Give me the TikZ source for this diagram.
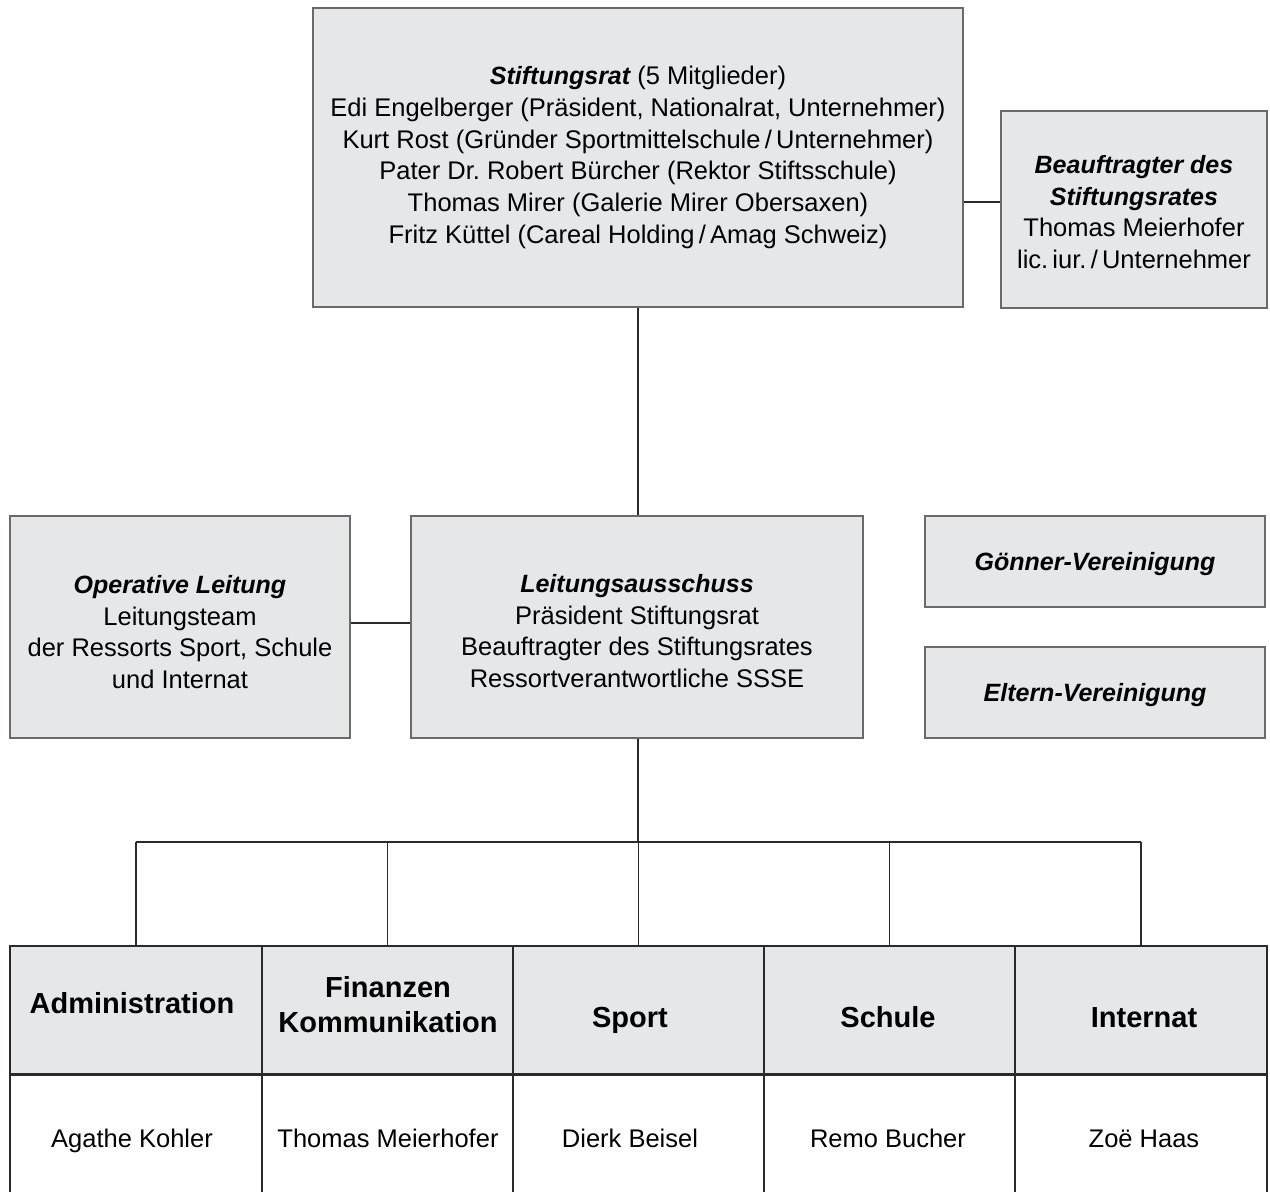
\documentclass[tikz,border=0pt]{standalone}
\usepackage{fontspec}
\setmainfont{Liberation Sans}
\frenchspacing
\definecolor{boxgray}{HTML}{E6E7E8}
\definecolor{boxline}{HTML}{6A6A6A}
\definecolor{conline}{HTML}{2A2A2A}
\newcommand{\bi}[1]{{\bfseries\itshape\fontsize{25}{31.8}\selectfont #1}}
\begin{document}
\begin{tikzpicture}[x=1pt,y=-1pt,
  box/.style={draw=boxline, line width=1.4pt, fill=boxgray, inner sep=0pt},
  btext/.style={align=center, inner sep=0pt, font=\fontsize{25.5}{31.8}\selectfont},
  conn/.style={draw=conline, line width=1.1pt},
  hcell/.style={draw=conline, line width=1.1pt, fill=boxgray, inner sep=0pt, minimum height=128pt},
  bcell/.style={draw=conline, line width=1.1pt, fill=white, inner sep=0pt, minimum height=140pt},
  htext/.style={align=center, inner sep=0pt, font=\bfseries\fontsize{29}{35}\selectfont},
  ntext/.style={inner sep=0pt, anchor=base, font=\fontsize{25.5}{31}\selectfont}
]
\clip (0,0) rectangle (1270,1192);
\fill[white] (0,0) rectangle (1270,1192);

% Stiftungsrat
\node[box, minimum width=650pt, minimum height=299pt] (stift) at (638,157.5) {};
\node[btext] (stifttext) at (638,157.5) {\bi{Stiftungsrat} (5 Mitglieder)\\
Edi Engelberger (Präsident, Nationalrat, Unternehmer)\\
Kurt Rost (Gründer Sportmittelschule\,/\,Unternehmer)\\
Pater Dr.\ Robert Bürcher (Rektor Stiftsschule)\\
Thomas Mirer (Galerie Mirer Obersaxen)\\
Fritz Küttel (Careal Holding\,/\,Amag Schweiz)};

% Beauftragter
\node[box, minimum width=266pt, minimum height=197pt] (bea) at (1134,209.5) {};
\node[btext] (beatext) at (1134,212) {\bi{Beauftragter des}\\
\bi{Stiftungsrates}\\
Thomas Meierhofer\\
lic.\,iur.\,/\,Unternehmer};

% Leitungsausschuss
\node[box, minimum width=452pt, minimum height=222pt] (leit) at (637,627) {};
\node[btext] (leittext) at (637,631) {\bi{Leitungsausschuss}\\
Präsident Stiftungsrat\\
Beauftragter des Stiftungsrates\\
Ressortverantwortliche SSSE};

% Operative Leitung
\node[box, minimum width=340pt, minimum height=222pt] (op) at (180,627) {};
\node[btext] (optext) at (180,632) {\bi{Operative Leitung}\\
Leitungsteam\\
der Ressorts Sport, Schule\\
und Internat};

% Vereinigungen
\node[box, minimum width=340pt, minimum height=91pt] (goen) at (1095,561.5) {};
\node[btext, anchor=base] (goentext) at (1095,570) {\bi{Gönner-Vereinigung}};
\node[box, minimum width=340pt, minimum height=91pt] (elt) at (1095,692.5) {};
\node[btext, anchor=base] (elttext) at (1095,701) {\bi{Eltern-Vereinigung}};

% Table header
\node[hcell, minimum width=252pt] (h1) at (136,1010) {};
\node[hcell, minimum width=251pt] (h2) at (387.5,1010) {};
\node[hcell, minimum width=251pt] (h3) at (638.5,1010) {};
\node[hcell, minimum width=251pt] (h4) at (889.5,1010) {};
\node[hcell, minimum width=252pt] (h5) at (1141,1010) {};
% Table body
\node[bcell, minimum width=252pt] (b1) at (136,1144) {};
\node[bcell, minimum width=251pt] (b2) at (387.5,1144) {};
\node[bcell, minimum width=251pt] (b3) at (638.5,1144) {};
\node[bcell, minimum width=251pt] (b4) at (889.5,1144) {};
\node[bcell, minimum width=252pt] (b5) at (1141,1144) {};
\draw[draw=conline, line width=2.6pt] (h1.south west) -- (h5.south east);

\node[htext, anchor=base] (t1) at (132,1013) {Administration};
\node[htext] (t2) at (388,1005) {Finanzen\\Kommunikation};
\node[htext, anchor=base] (t3) at (630,1027) {Sport};
\node[htext, anchor=base] (t4) at (888,1027) {Schule};
\node[htext, anchor=base] (t5) at (1144,1027) {Internat};

\node[ntext] (n1) at (132,1147) {Agathe Kohler};
\node[ntext] (n2) at (388,1147) {Thomas Meierhofer};
\node[ntext] (n3) at (630,1147) {Dierk Beisel};
\node[ntext] (n4) at (888,1147) {Remo Bucher};
\node[ntext] (n5) at (1144,1147) {Zoë Haas};

% Connectors
\coordinate (bj) at (982,202);
\coordinate (bus) at (638,842);
\draw[conn] (stift.east |- bj) -- (bea.west |- bj);
\draw[conn] (stift.south) -- (stift.south |- leit.north);
\draw[conn] (op.east |- 0,623) -- (leit.west |- 0,623);
\draw[conn] (leit.south -| stift.south) -- (stift.south |- bus);
\draw[conn] (h1.north |- bus) -- (h5.north |- bus);
\draw[conn] (h1.north |- bus) -- (h1.north);
\draw[conn] (h2.north |- bus) -- (h2.north);
\draw[conn] (h3.north |- bus) -- (h3.north);
\draw[conn] (h4.north |- bus) -- (h4.north);
\draw[conn] (h5.north |- bus) -- (h5.north);
\end{tikzpicture}
\end{document}
